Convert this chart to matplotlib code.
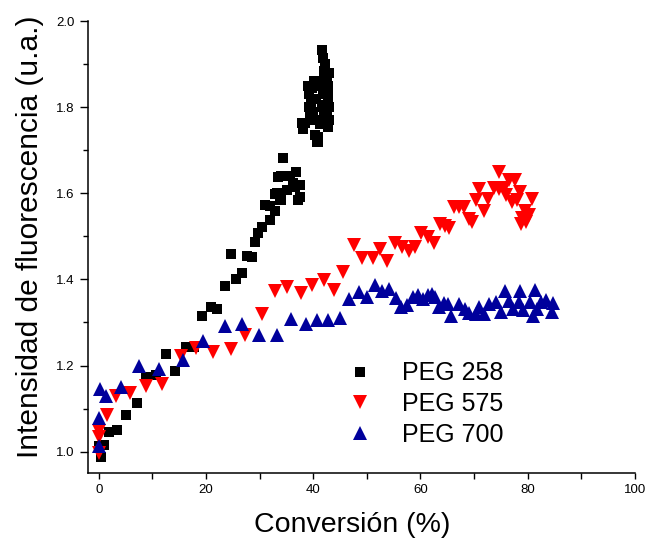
import matplotlib
matplotlib.use("Agg")
import matplotlib.pyplot as plt
from matplotlib.ticker import MultipleLocator

plt.rcParams['font.family'] = ['Liberation Sans', 'DejaVu Sans']

# --- data --- #
peg258_x = [0.4, 0.1, 1.0, 1.9, 3.5, 5.0, 7.2, 8.9, 10.6, 12.6, 14.3, 16.2,
            17.7, 19.3, 21.0, 22.1, 23.6, 24.7, 25.7, 26.8, 27.6, 28.6, 29.2,
            29.8, 30.4, 32.0, 31.0, 32.0, 32.9, 33.3, 33.9, 35.1, 34.1, 35.7,
            36.3, 37.2, 37.5, 36.9, 34.4, 33.5, 36.6, 32.9, 34.1, 37.5,
            38.2, 38.5, 40.9, 40.3, 37.9,
            39.0, 39.3, 39.6, 40.0, 40.4, 39.2, 39.8, 40.6, 39.5, 40.2,
            41.7, 41.9, 42.3, 42.0, 42.6, 42.2, 42.9, 42.5, 42.8, 41.8, 42.7,
            42.9, 42.2, 42.6, 42.9, 42.4, 42.8, 42.0, 41.6, 41.3, 41.0, 40.7,
            41.5, 42.1, 42.7]
peg258_y = [0.987, 1.012, 1.016, 1.045, 1.051, 1.086, 1.112, 1.173, 1.177,
            1.227, 1.187, 1.243, 1.243, 1.314, 1.336, 1.331, 1.384, 1.460,
            1.401, 1.416, 1.454, 1.452, 1.486, 1.508, 1.521, 1.537, 1.574,
            1.570, 1.559, 1.601, 1.585, 1.607, 1.640, 1.640, 1.623, 1.584,
            1.619, 1.650, 1.681, 1.638, 1.615, 1.599, 1.584, 1.591,
            1.750, 1.763, 1.719, 1.735, 1.763,
            1.850, 1.830, 1.810, 1.790, 1.770, 1.800, 1.845, 1.820, 1.780,
            1.860,
            1.934, 1.915, 1.900, 1.885, 1.870, 1.860, 1.880, 1.845, 1.830,
            1.830, 1.815, 1.800, 1.805, 1.790, 1.770, 1.760, 1.755, 1.780,
            1.800, 1.760, 1.730, 1.720, 1.850, 1.870, 1.850]

peg575_x = [0.1, 0.1, 0.1, 1.5, 3.3, 5.8, 8.9, 11.8, 15.4, 18.2, 21.3, 24.7,
            27.3, 30.4, 32.9, 35.2, 37.7, 39.8, 42.1, 43.9, 45.6, 47.6, 49.2,
            51.1, 52.4, 53.8, 55.3, 56.6, 57.9, 59.1, 60.2, 61.4, 62.5, 63.6,
            64.6, 65.4, 66.2, 67.3, 68.2, 69.0, 69.6, 70.4, 71.0, 71.8, 72.7,
            73.7, 74.7, 74.7, 75.6, 76.6, 77.7, 76.0, 77.1, 78.1, 78.6, 80.8,
            79.6, 80.3, 78.9, 79.7, 78.8]
peg575_y = [0.998, 1.033, 1.049, 1.084, 1.129, 1.136, 1.153, 1.157, 1.221,
            1.241, 1.231, 1.239, 1.270, 1.320, 1.372, 1.382, 1.368, 1.388,
            1.399, 1.376, 1.417, 1.479, 1.449, 1.449, 1.471, 1.443, 1.485,
            1.475, 1.466, 1.475, 1.508, 1.498, 1.485, 1.529, 1.523, 1.519,
            1.568, 1.568, 1.568, 1.541, 1.533, 1.584, 1.611, 1.558, 1.588,
            1.613, 1.650, 1.611, 1.612, 1.630, 1.630, 1.595, 1.580, 1.584,
            1.603, 1.587, 1.560, 1.549, 1.543, 1.533, 1.529]

peg700_x = [0.1, 0.1, 0.2, 1.3, 4.2, 7.5, 11.2, 15.7, 19.5, 23.6, 26.8, 29.9,
            33.3, 35.8, 38.7, 40.8, 42.8, 45.0, 46.7, 48.6, 50.1, 51.5, 52.9,
            54.1, 55.5, 56.4, 57.5, 58.6, 59.5, 60.5, 61.4, 62.2, 62.8, 63.4,
            64.5, 65.1, 65.7, 67.3, 68.4, 69.1, 70.4, 70.9, 71.8, 72.9, 74.1,
            75.0, 75.8, 76.6, 77.2, 78.6, 78.4, 79.1, 80.4, 81.4, 81.1, 81.7,
            82.5, 83.5, 84.5, 84.8]
peg700_y = [1.012, 1.078, 1.146, 1.129, 1.151, 1.198, 1.192, 1.212, 1.256,
            1.293, 1.297, 1.270, 1.270, 1.308, 1.297, 1.306, 1.305, 1.311,
            1.355, 1.370, 1.360, 1.388, 1.373, 1.378, 1.357, 1.336, 1.340,
            1.359, 1.365, 1.355, 1.365, 1.367, 1.359, 1.337, 1.345, 1.342,
            1.316, 1.343, 1.332, 1.322, 1.319, 1.337, 1.319, 1.342, 1.347,
            1.324, 1.373, 1.350, 1.332, 1.373, 1.347, 1.328, 1.347, 1.376,
            1.316, 1.332, 1.347, 1.353, 1.324, 1.345]

labels = ['PEG 258', 'PEG 575', 'PEG 700']

# --- figure --- #
fig = plt.figure(figsize=(6.47, 5.42), dpi=100)
ax = fig.add_axes([0.136, 0.127, 0.845, 0.834])

ax.plot(peg258_x, peg258_y, 's', color='black', ms=7, mew=0,
        label=labels[0])
ax.plot(peg575_x, peg575_y, 'v', color='#ff0000', ms=9.5, mew=0,
        label=labels[1])
ax.plot(peg700_x, peg700_y, '^', color='#00009c', ms=9.5, mew=0,
        label=labels[2])

ax.set_xlim(-2, 100)
ax.set_ylim(0.95, 2.0)
ax.xaxis.set_major_locator(MultipleLocator(20))
ax.xaxis.set_minor_locator(MultipleLocator(10))
ax.yaxis.set_major_locator(MultipleLocator(0.2))
ax.yaxis.set_minor_locator(MultipleLocator(0.1))
ax.yaxis.set_major_formatter(plt.FormatStrFormatter('%.1f'))

for side in ('top', 'right'):
    ax.spines[side].set_visible(False)
for side in ('left', 'bottom'):
    ax.spines[side].set_linewidth(1.1)

ax.tick_params(axis='both', which='both', direction='out', width=1.0,
               labelsize=9.5)
ax.tick_params(axis='x', which='both', length=4)
ax.tick_params(axis='y', which='major', length=6)
ax.tick_params(axis='y', which='minor', length=3.5)

ax.set_xlabel('Conversión (%)', fontsize=20.5)
ax.set_ylabel('Intensidad de fluorescencia (u.a.)', fontsize=21.5)
ax.xaxis.set_label_coords(0.483, -0.085)
ax.yaxis.set_label_coords(-0.08, 0.524)

ax.legend(loc='center left', bbox_to_anchor=(0.474, 0.153), frameon=False,
          fontsize=18, handlelength=1.0, handletextpad=1.2,
          labelspacing=0.27, borderpad=0, borderaxespad=0, markerscale=1.0)

fig.savefig('out.png', dpi=100)
